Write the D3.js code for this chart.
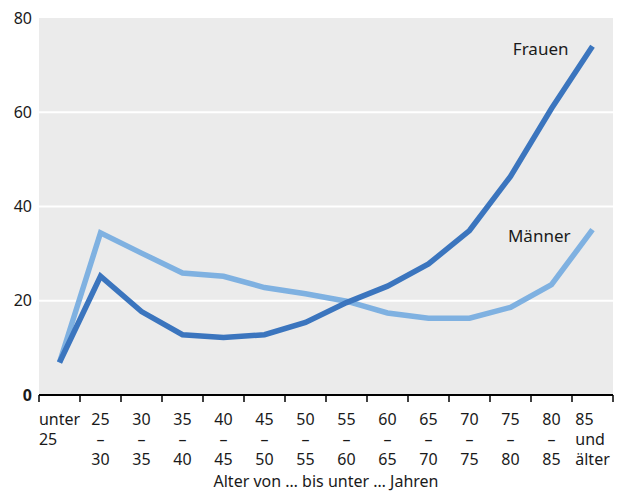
<!DOCTYPE html>
<html lang="de">
<head>
  <meta charset="UTF-8">
  <title>Frauen und Männer nach Alter</title>
  <script src="https://d3js.org/d3.v7.min.js"></script>
</head>
<style>
  body {
    margin: 0;
    padding: 0;
    background: #fff;
  }
  svg {
    display: block;
    font-family: "Noto Sans", sans-serif;
    font-size: 16px;
    fill: #1a1a1a;
  }
</style>
<body>
<div id="chart"></div>
<script>
  // categories (age groups), each label split into lines
  var categories = [
    ['unter', '25'], ['25', '–', '30'], ['30', '–', '35'], ['35', '–', '40'],
    ['40', '–', '45'], ['45', '–', '50'], ['50', '–', '55'], ['55', '–', '60'],
    ['60', '–', '65'], ['65', '–', '70'], ['70', '–', '75'], ['75', '–', '80'],
    ['80', '–', '85'], ['85', 'und', 'älter']
  ];
  var frauen = [6.9, 25.2, 17.7, 12.8, 12.2, 12.8, 15.4, 19.6, 23.1, 27.8, 34.9, 46.4, 60.8, 74.0];
  var maenner = [6.9, 34.4, 30.1, 25.9, 25.2, 22.8, 21.5, 19.9, 17.4, 16.3, 16.3, 18.6, 23.4, 35.1];
  var yTicks = [0, 20, 40, 60, 80];
  var xTitle = 'Alter von … bis unter … Jahren';

  var width = 618, height = 492;
  var margin = {top: 18, right: 5, bottom: 97, left: 39};
  var plotW = width - margin.left - margin.right;
  var plotH = height - margin.top - margin.bottom;

  var svg = d3.select('#chart').append('svg')
    .attr('width', width)
    .attr('height', height);

  var g = svg.append('g')
    .attr('transform', 'translate(' + margin.left + ',' + margin.top + ')');

  var idx = d3.range(categories.length);
  var x = d3.scaleBand().domain(idx).range([0, plotW]);
  var y = d3.scaleLinear().domain([0, 80]).range([plotH, 0]);

  // background
  g.append('rect')
    .attr('width', plotW)
    .attr('height', plotH)
    .attr('fill', '#ebebeb');

  // gridlines
  g.selectAll('.grid')
    .data(yTicks.filter(function (d) { return d > 0 && d < 80; }))
    .enter().append('line')
    .attr('x1', 0).attr('x2', plotW)
    .attr('y1', function (d) { return y(d); })
    .attr('y2', function (d) { return y(d); })
    .attr('stroke', '#fff')
    .attr('stroke-width', 2);

  // y labels
  g.selectAll('.ylab')
    .data(yTicks)
    .enter().append('text')
    .attr('x', -7)
    .attr('y', function (d) { return y(d); })
    .attr('dy', '0.35em')
    .attr('text-anchor', 'end')
    .attr('font-weight', function (d) { return d === 0 ? 'bold' : 'normal'; })
    .text(function (d) { return d; });

  // lines
  var line = d3.line()
    .x(function (d, i) { return x(i) + x.bandwidth() / 2; })
    .y(function (d) { return y(d); });

  g.append('path').datum(maenner)
    .attr('d', line)
    .attr('fill', 'none')
    .attr('stroke', '#7fb1e1')
    .attr('stroke-width', 5.5);

  g.append('path').datum(frauen)
    .attr('d', line)
    .attr('fill', 'none')
    .attr('stroke', '#3b75be')
    .attr('stroke-width', 5.5);

  // series labels
  g.append('text')
    .attr('x', x(12) + x.bandwidth() / 2 + 17)
    .attr('y', 37)
    .attr('text-anchor', 'end')
    .attr('font-size', 17)
    .text('Frauen');

  g.append('text')
    .attr('x', x(12) + x.bandwidth() / 2 + 19)
    .attr('y', 224)
    .attr('text-anchor', 'end')
    .attr('font-size', 17)
    .text('Männer');

  // x axis: line with ticks at band edges
  var xAxis = g.append('g').attr('transform', 'translate(0,' + plotH + ')');
  xAxis.append('line')
    .attr('x1', 0).attr('x2', plotW)
    .attr('stroke', '#000')
    .attr('stroke-width', 2);
  xAxis.selectAll('.tick')
    .data(d3.range(categories.length + 1))
    .enter().append('line')
    .attr('x1', function (d) { return d * x.step(); })
    .attr('x2', function (d) { return d * x.step(); })
    .attr('y1', 0).attr('y2', 7)
    .attr('stroke', '#000')
    .attr('stroke-width', 1.5);

  // x tick labels, lines left-aligned inside a centred block
  var lab = xAxis.selectAll('.xlab')
    .data(categories)
    .enter().append('text')
    .attr('transform', function (d, i) {
      return 'translate(' + (x(i) + x.bandwidth() / 2) + ',0)';
    });
  lab.each(function (lines) {
    var t = d3.select(this);
    var spans = lines.map(function (s, j) {
      return t.append('tspan').attr('y', 30 + j * 20).text(s);
    });
    var w = d3.max(spans, function (s) { return s.node().getComputedTextLength(); });
    spans.forEach(function (s) {
      var sw = s.node().getComputedTextLength();
      var isDash = s.text() === '–';
      s.attr('x', isDash ? -sw / 2 : -w / 2);
    });
  });

  xAxis.append('text')
    .attr('x', plotW / 2)
    .attr('y', 92)
    .attr('text-anchor', 'middle')
    .text(xTitle);
</script>
</body>
</html>
